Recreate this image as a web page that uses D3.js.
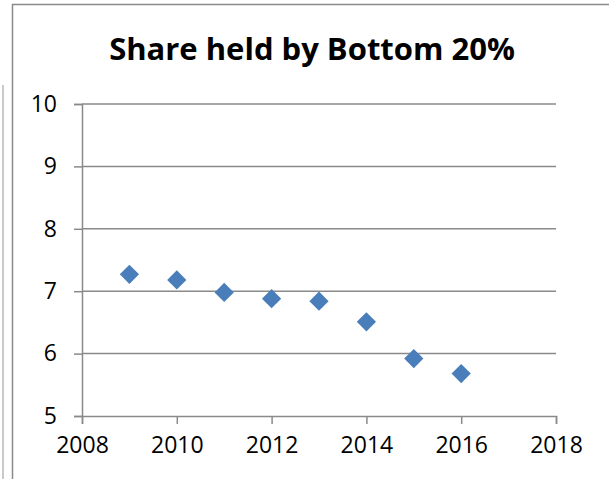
<!DOCTYPE html>
<html>
<head>
<meta charset="utf-8">
<script src="https://cdn.jsdelivr.net/npm/d3@7"></script>
<style>
  body { margin: 0; background: #fff; }
  text { font-family: "Open Sans", "Liberation Sans", sans-serif; fill: #000; }
</style>
</head>
<body>
<svg id="chart"></svg>
<script>
const years = [2009, 2010, 2011, 2012, 2013, 2014, 2015, 2016];
const shares = [7.27, 7.18, 6.98, 6.88, 6.84, 6.51, 5.92, 5.68];
const xTicks = [2008, 2010, 2012, 2014, 2016, 2018];
const yTicks = [5, 6, 7, 8, 9, 10];

const W = 609, H = 479;
const margin = { top: 104, right: 53, bottom: 63, left: 82 },
      width = W - margin.left - margin.right,
      height = H - margin.top - margin.bottom;

const svg = d3.select("#chart")
    .attr("width", W)
    .attr("height", H);

// chart frame (cut off on right and bottom)
svg.append("rect")
    .attr("x", 12.5).attr("y", 4.5)
    .attr("width", W + 10).attr("height", H + 10)
    .attr("fill", "none")
    .attr("stroke", "#8a8a8a")
    .attr("stroke-width", 1.5);

svg.append("line")
    .attr("x1", 3).attr("x2", 3)
    .attr("y1", 85).attr("y2", H)
    .attr("stroke", "#a6a6a6")
    .attr("stroke-width", 1.2);

svg.append("text")
    .attr("x", 312)
    .attr("y", 60)
    .attr("text-anchor", "middle")
    .style("font-size", "31px")
    .style("font-weight", "bold")
    .text("Share held by Bottom 20%");

const g = svg.append("g")
    .attr("transform", `translate(${margin.left},${margin.top})`);

const x = d3.scaleLinear().domain([2008, 2018]).range([0, width]);
const y = d3.scaleLinear().domain([5, 10]).range([height, 0]);

// gridlines
g.append("g")
    .selectAll("line")
    .data(yTicks.filter(d => d !== 5))
    .enter().append("line")
    .attr("x1", 0).attr("x2", width)
    .attr("y1", d => y(d)).attr("y2", d => y(d))
    .attr("stroke", "#8a8a8a")
    .attr("stroke-width", 1.5);

const yAxis = g.append("g")
    .call(d3.axisLeft(y).tickValues(yTicks).tickSize(8).tickPadding(17).tickFormat(d3.format("d")));

const xAxis = g.append("g")
    .attr("transform", `translate(0,${height})`)
    .call(d3.axisBottom(x).tickValues(xTicks).tickSize(8).tickPadding(13).tickFormat(d3.format("d")));

[yAxis, xAxis].forEach(a => {
    a.select(".domain").attr("stroke", "#8a8a8a").attr("stroke-width", 1.5);
    a.selectAll(".tick line").attr("stroke", "#8a8a8a").attr("stroke-width", 1.5);
    a.selectAll("text")
        .style("font-size", "23px")
        .attr("fill", "#000");
});

const data = years.map((d, i) => ({ year: d, value: shares[i] }));

g.selectAll(".pt")
    .data(data)
    .enter().append("path")
    .attr("class", "pt")
    .attr("d", d3.symbol(d3.symbolSquare, 185))
    .attr("transform", d => `translate(${x(d.year)},${y(d.value)}) rotate(45)`)
    .attr("fill", "#4a7ebb");
</script>
</body>
</html>
